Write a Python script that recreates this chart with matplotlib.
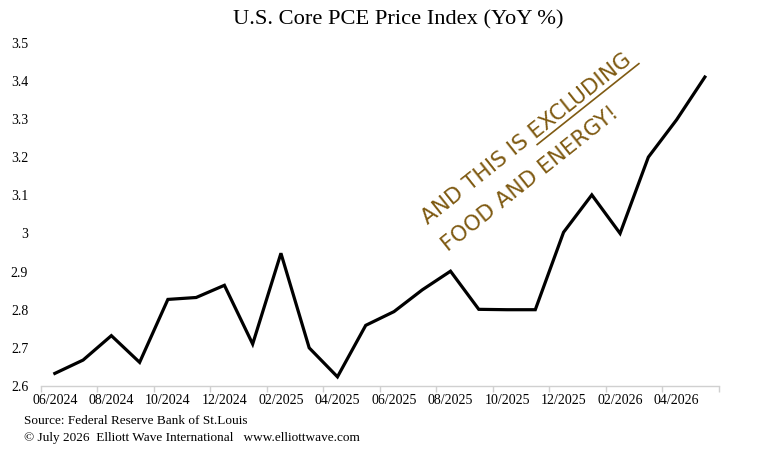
import math
import matplotlib
matplotlib.use("Agg")
import matplotlib.pyplot as plt
from matplotlib.lines import Line2D

months = ["06/2024", "07/2024", "08/2024", "09/2024", "10/2024", "11/2024",
          "12/2024", "01/2025", "02/2025", "03/2025", "04/2025", "05/2025",
          "06/2025", "07/2025", "08/2025", "09/2025", "10/2025", "11/2025",
          "12/2025", "01/2026", "02/2026", "03/2026", "04/2026", "05/2026"]
core_pce = [2.633, 2.668, 2.732, 2.662, 2.827, 2.832, 2.864, 2.710, 2.948,
            2.700, 2.624, 2.759, 2.795, 2.852, 2.901, 2.801, 2.800, 2.800,
            3.003, 3.101, 3.000, 3.200, 3.298, 3.410]
y_ticks = [2.6, 2.7, 2.8, 2.9, 3.0, 3.1, 3.2, 3.3, 3.4, 3.5]
y_labels = ["2.6", "2.7", "2.8", "2.9", "3", "3.1", "3.2", "3.3", "3.4", "3.5"]

serif = "Liberation Serif"
W, H = 781, 453
fig = plt.figure(figsize=(W / 100, H / 100), dpi=100)
ax = fig.add_axes([40.7 / W, 1 - 386 / H, (719 - 40.7) / W, (386 - 42.7) / H])

x = list(range(len(months)))
ax.plot(x, core_pce, color="black", lw=2.3, solid_joinstyle="miter")

ax.set_xlim(-0.5, len(months) - 0.5)
ax.set_ylim(2.6, 3.5)
for s in ["top", "right", "left"]:
    ax.spines[s].set_visible(False)
ax.spines["bottom"].set_color("#d0d0d0")
ax.spines["bottom"].set_linewidth(1.0)

major = [i - 0.5 for i in range(0, len(months) + 1, 2)]
ax.set_xticks(major)
ax.set_xticklabels([])
ax.tick_params(axis="x", which="major", length=4, color="#d0d0d0", width=1.0)
ax.set_xticks(x[::2], minor=True)
ax.set_xticklabels(months[::2], minor=True, fontfamily=serif, fontsize=10)
ax.tick_params(axis="x", which="minor", length=0, pad=6)

ax.set_yticks(y_ticks)
ax.set_yticklabels(y_labels, fontfamily=serif, fontsize=10)
ax.tick_params(axis="y", length=0, pad=9)

fig.text(398 / W, 1 - 20 / H, "U.S. Core PCE Price Index (YoY %)",
         fontfamily=serif, fontsize=16.2, ha="center", va="center")

fig.text(24 / W, 1 - 421 / H, "Source: Federal Reserve Bank of St.Louis",
         fontfamily=serif, fontsize=9.5, ha="left", va="center")
fig.text(24 / W, 1 - 438 / H,
         "\u00a9 July 2026  Elliott Wave International   www.elliottwave.com",
         fontfamily=serif, fontsize=9.5, ha="left", va="center")

brown = "#7F5A12"
ang = 38.5
fs = 15.5
ann_font = "DejaVu Sans"
x0, y0 = 428, 225
fig.text(x0 / W, 1 - y0 / H, "AND THIS IS EXCLUDING", color=brown,
         fontsize=fs, rotation=ang, rotation_mode="anchor",
         ha="left", va="baseline", fontfamily=ann_font)
fig.text(448 / W, 1 - 252 / H, "FOOD AND ENERGY!", color=brown,
         fontsize=fs, rotation=ang, rotation_mode="anchor",
         ha="left", va="baseline", fontfamily=ann_font)

# underline under "EXCLUDING", measured from the rendered text widths
renderer = fig.canvas.get_renderer()
def text_width(s):
    t = fig.text(0, 0, s, fontsize=fs, fontfamily=ann_font)
    w = t.get_window_extent(renderer).width
    t.remove()
    return w
d0 = text_width("AND THIS IS ")
d1 = text_width("AND THIS IS EXCLUDING")
c, s_ = math.cos(math.radians(ang)), math.sin(math.radians(ang))
off = 5  # pixels below baseline
def pt(d):
    px = x0 + c * d + s_ * off
    py = y0 - s_ * d + c * off
    return px / W, 1 - py / H
p0, p1 = pt(d0 - 2), pt(d1 + 4)
fig.add_artist(Line2D([p0[0], p1[0]], [p0[1], p1[1]],
                      transform=fig.transFigure, color=brown, lw=1.2))

fig.savefig("out.png", dpi=100)
